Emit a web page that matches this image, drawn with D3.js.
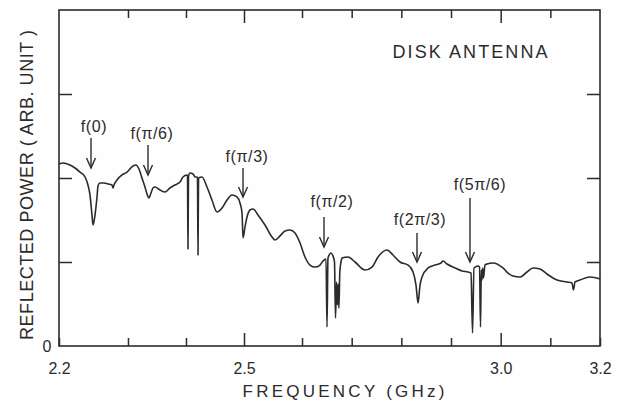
<!DOCTYPE html>
<html><head><meta charset="utf-8">
<script src="https://cdn.jsdelivr.net/npm/d3@7/dist/d3.min.js"></script>
<style>body{margin:0;background:#fff}svg{display:block}</style>
</head><body><svg id="c" width="624" height="403"></svg>
<script>
// ---- data (frequency in GHz, reflected power in arbitrary units) ----
const freqGHz = [
 2.2000,2.2058,2.2159,2.2232,2.2304,2.2377,2.2420,2.2449,2.2478,2.2493,2.2522,2.2551,2.2565,2.2594,2.2652,2.2710,2.2768,2.2783,2.2797,2.2841,
 2.2913,2.2986,2.3086,2.3138,2.3190,2.3241,2.3293,2.3328,2.3362,2.3397,2.3431,2.3466,2.3552,2.3638,2.3724,2.3810,2.3897,2.3948,2.4017,2.4026,
 2.4034,2.4043,2.4069,2.4121,2.4155,2.4198,2.4207,2.4216,2.4276,2.4362,2.4448,2.4534,2.4621,2.4707,2.4793,2.4879,2.4931,2.4966,2.4983,2.5017,
 2.5052,2.5103,2.5155,2.5241,2.5362,2.5483,2.5534,2.5621,2.5707,2.5793,2.5879,2.5966,2.6060,2.6161,2.6262,2.6362,2.6423,2.6483,2.6503,2.6523,
 2.6584,2.6624,2.6654,2.6674,2.6695,2.6711,2.6727,2.6743,2.6761,2.6785,2.6805,2.6926,2.7067,2.7268,2.7409,2.7530,2.7711,2.7832,2.7973,2.8134,
 2.8235,2.8295,2.8336,2.8376,2.8416,2.8537,2.8678,2.8799,2.8839,2.8919,2.9081,2.9221,2.9342,2.9403,2.9433,2.9463,2.9544,2.9574,2.9594,2.9610,
 2.9624,2.9638,2.9654,2.9684,2.9725,2.9846,3.0047,3.0148,3.0248,3.0389,3.0530,3.0651,3.0792,3.0933,3.1134,3.1336,3.1436,3.1466,3.1497,3.1597,
 3.1799,3.2000];
const reflectedPower = [
 2.167,2.179,2.155,2.119,2.071,2.012,1.917,1.798,1.560,1.440,1.560,1.774,1.905,1.940,1.940,1.929,1.917,1.881,1.917,1.976,
 2.036,2.071,2.143,2.155,2.107,2.000,1.893,1.810,1.762,1.821,1.881,1.893,1.857,1.833,1.881,1.917,1.952,2.012,2.036,2.024,
 1.155,2.024,2.060,2.048,2.012,2.012,1.083,2.000,2.012,1.893,1.738,1.595,1.643,1.738,1.798,1.774,1.702,1.583,1.286,1.417,
 1.536,1.619,1.631,1.560,1.440,1.298,1.262,1.310,1.369,1.381,1.345,1.226,1.060,0.964,0.940,0.964,1.012,1.036,0.226,1.048,
 1.107,1.071,1.000,0.333,0.762,0.488,0.738,0.452,0.881,1.000,1.048,1.060,1.000,0.905,0.940,1.060,1.143,1.083,1.000,0.964,
 0.881,0.726,0.512,0.726,0.821,0.929,0.964,0.988,1.012,0.976,0.929,0.893,0.881,0.869,0.155,0.929,0.952,0.940,0.226,0.905,
 0.786,0.929,0.810,0.964,0.976,0.988,0.929,0.869,0.833,0.821,0.881,0.929,0.917,0.857,0.786,0.762,0.750,0.667,0.762,0.786,
 0.821,0.798];

const xTickValues = [2.2,2.3,2.4,2.5,2.6,2.7,2.8,2.9,3.0,3.1,3.2];
const xMajorTicks = [2.5,3.0];
const xTickLabels = ["2.2","2.5","3.0","3.2"];
const xLabeledTicks = [2.2,2.5,3.0,3.2];
const yTickValues = [1,2,3];
const yTickLabels = ["0"];
const yDomain = [0,4];

const annoLabels     = ["f(0)","f(π/6)","f(π/3)","f(π/2)","f(2π/3)","f(5π/6)"];
const annoFreq       = [2.2464,2.3345,2.4983,2.6443,2.8315,2.9382];
const annoTipPower   = [2.119,2.036,1.774,1.179,1.000,1.000];
const annoTailPower  = [2.476,2.393,2.119,1.536,1.345,1.762];
const annoLabelFreq  = [2.2507,2.3414,2.5052,2.6604,2.8376,2.9584];
const annoLabelPower = [2.548,2.464,2.190,1.655,1.440,1.857];

const title = "DISK ANTENNA";
const xTitle = "FREQUENCY  (GHz)";
const yTitle = "REFLECTED POWER ( ARB. UNIT )";

// ---- layout ----
const L = 59, R = 600, T = 10, B = 346;
const ink = "#2b2b2b";
const font = "'Liberation Sans', Arial, sans-serif";
const W = R - L;
// the printed frequency axis is slightly compressed toward high frequency
const x = d3.scaleLinear()
  .domain([2.2, 2.3, 2.6, 3.2])
  .range([L, L + W*0.1275, L + W*0.4492, R]);
const y = d3.scaleLinear().domain(yDomain).range([B, T]);

const svg = d3.select("#c");
svg.append("rect").attr("width",624).attr("height",403).attr("fill","#fefefe");

// frame
svg.append("rect")
  .attr("x", x(2.2)).attr("y", y(yDomain[1]))
  .attr("width", x(3.2)-x(2.2)).attr("height", y(0)-y(yDomain[1]))
  .attr("fill","none").attr("stroke",ink).attr("stroke-width",1.6);

const tickLen = d => xMajorTicks.some(m => Math.abs(m-d) < 1e-9) ? 13 : 8;

// bottom axis (inward ticks)
const gb = svg.append("g").attr("transform",`translate(0,${B})`)
  .call(d3.axisBottom(x).tickValues(xTickValues).tickSizeOuter(0).tickSizeInner(0).tickPadding(0)
    .tickFormat(d => { const i = xLabeledTicks.findIndex(v => Math.abs(v-d)<1e-9); return i>=0 ? xTickLabels[i] : ""; }));
gb.select(".domain").remove();
gb.selectAll(".tick line").attr("y2", d => -tickLen(d)).attr("stroke",ink).attr("stroke-width",1.5);
gb.selectAll(".tick text").attr("y",28).attr("dy",0).attr("fill",ink)
  .style("font-family",font).style("font-size","16px");

// top axis
const gt = svg.append("g").attr("transform",`translate(0,${T})`)
  .call(d3.axisTop(x).tickValues(xTickValues.slice(1,-1)).tickSizeOuter(0).tickSizeInner(0).tickFormat(""));
gt.select(".domain").remove();
gt.selectAll(".tick line").attr("y2", d => tickLen(d)).attr("stroke",ink).attr("stroke-width",1.5);

// left axis
const gl = svg.append("g").attr("transform",`translate(${L},0)`)
  .call(d3.axisLeft(y).tickValues(yTickValues).tickSizeOuter(0).tickSizeInner(0).tickFormat(""));
gl.select(".domain").remove();
gl.selectAll(".tick line").attr("x2", 13).attr("stroke",ink).attr("stroke-width",1.5);
svg.append("text").attr("x", L-12).attr("y", y(0)+6).attr("text-anchor","middle")
  .attr("fill",ink).style("font-family",font).style("font-size","16px").text(yTickLabels[0]);

// right axis
const gr = svg.append("g").attr("transform",`translate(${R},0)`)
  .call(d3.axisRight(y).tickValues(yTickValues).tickSizeOuter(0).tickSizeInner(0).tickFormat(""));
gr.select(".domain").remove();
gr.selectAll(".tick line").attr("x2", -13).attr("stroke",ink).attr("stroke-width",1.5);

// curve
const pts = freqGHz.map((f,i) => [f, reflectedPower[i]]);
svg.append("path").datum(pts)
  .attr("d", d3.line().x(d => x(d[0])).y(d => y(d[1])).curve(d3.curveMonotoneX))
  .attr("fill","none").attr("stroke",ink).attr("stroke-width",1.6).attr("stroke-linejoin","round");

// annotations
const ag = svg.append("g");
annoLabels.forEach((lab,i) => {
  const ax = x(annoFreq[i]), y1 = y(annoTailPower[i]), y2 = y(annoTipPower[i]);
  ag.append("line").attr("x1",ax).attr("x2",ax).attr("y1",y1).attr("y2",y2)
    .attr("stroke",ink).attr("stroke-width",1.4);
  ag.append("path").attr("d",`M${ax-4.5},${y2-10}L${ax},${y2}L${ax+4.5},${y2-10}`)
    .attr("fill","none").attr("stroke",ink).attr("stroke-width",1.4);
  ag.append("text").attr("x", x(annoLabelFreq[i])).attr("y", y(annoLabelPower[i]))
    .attr("text-anchor","middle").attr("fill",ink)
    .style("font-family",font).style("font-size","16px").style("letter-spacing","0.6px")
    .text(lab);
});

// titles
svg.append("text").attr("x",470).attr("y",58).attr("text-anchor","middle")
  .attr("fill",ink).style("font-family",font).style("font-size","18px")
  .attr("textLength",155).attr("lengthAdjust","spacing").text(title);
svg.append("text").attr("x",(L+R)/2 + 14).attr("y",397).attr("text-anchor","middle")
  .attr("fill",ink).style("font-family",font).style("font-size","17px")
  .attr("textLength",202).attr("lengthAdjust","spacing").text(xTitle);
svg.append("text").attr("transform",`translate(33,${185}) rotate(-90)`).attr("text-anchor","middle")
  .attr("fill",ink).style("font-family",font).style("font-size","18px")
  .attr("textLength",310).attr("lengthAdjust","spacing").text(yTitle);
</script>
</body></html>
